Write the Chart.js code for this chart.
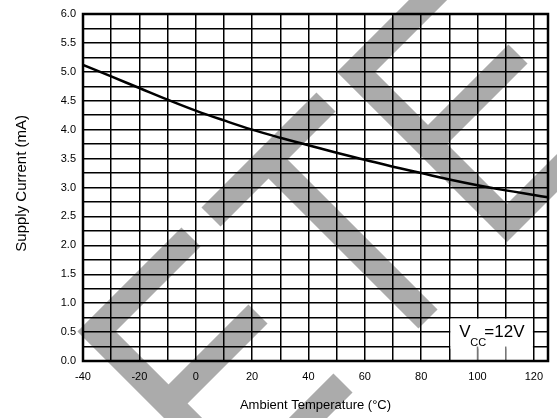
<!DOCTYPE html>
<html>
<head>
<meta charset="utf-8">
<script src="https://cdn.jsdelivr.net/npm/chart.js@4.4.0/dist/chart.umd.min.js"></script>
<style>
  html, body { margin: 0; padding: 0; background: #fff; }
  #wrap { width: 557px; height: 418px; }
</style>
</head>
<body>
<div id="wrap"><canvas id="chart"></canvas></div>
<script>
// data
const temps = [-40, -30, -20, -10, 0, 10, 20, 30, 40, 50, 60, 70, 80, 90, 100, 110, 120, 125];
const current = [5.12, 4.92, 4.72, 4.52, 4.33, 4.16, 4.00, 3.86, 3.73, 3.60, 3.48, 3.36, 3.25, 3.14, 3.04, 2.95, 2.87, 2.83];
const xGrid = [-40, -30, -20, -10, 0, 10, 20, 30, 40, 50, 60, 70, 80, 90, 100, 110, 120, 125];
const xTickLabels = [-40, -20, 0, 20, 40, 60, 80, 100, 120];
const yTickLabels = [0, 0.5, 1, 1.5, 2, 2.5, 3, 3.5, 4, 4.5, 5, 5.5, 6];

const FONT = "'Liberation Sans', Arial, sans-serif";

// grey background watermark strokes (page pixels)
const watermark = [
    [[191, 237], [96.5, 331.5], [220, 455]],
    [[168.5, 403.5], [258, 314]],
    [[211, 217], [326, 102]],
    [[268.5, 159.5], [428, 319]],
    [[450, -22], [356, 72], [507, 223], [600, 130]],
    [[428, 144], [518, 54]],
    [[343, 383], [250, 476]]
];

const decor = {
    id: 'decor',
    beforeDraw(chart) {
        const ctx = chart.ctx;
        ctx.save();
        ctx.fillStyle = '#fff';
        ctx.fillRect(0, 0, chart.width, chart.height);
        ctx.strokeStyle = '#ababab';
        ctx.lineWidth = 27;
        ctx.lineCap = 'butt';
        ctx.lineJoin = 'miter';
        watermark.forEach(function(line) {
            ctx.beginPath();
            line.forEach(function(p, i) {
                if (i === 0) ctx.moveTo(p[0], p[1]); else ctx.lineTo(p[0], p[1]);
            });
            ctx.stroke();
        });
        ctx.restore();
    },
    afterDraw(chart) {
        const ctx = chart.ctx;
        const xs = chart.scales.x, ys = chart.scales.y;
        const a = chart.chartArea;
        ctx.save();
        // Vcc box
        const bx0 = xs.getPixelForValue(90), bx1 = xs.getPixelForValue(120);
        const by0 = ys.getPixelForValue(0.75), by1 = ys.getPixelForValue(0.25);
        ctx.fillStyle = '#fff';
        ctx.fillRect(bx0 + 1, by0 + 1, bx1 - bx0 - 2, by1 - by0 + 1);
        [100, 110].forEach(function(v) {
            const px = xs.getPixelForValue(v);
            ctx.strokeStyle = '#fff';
            ctx.lineWidth = 2;
            ctx.beginPath(); ctx.moveTo(px, by1); ctx.lineTo(px, a.bottom); ctx.stroke();
            ctx.strokeStyle = '#777';
            ctx.lineWidth = 1.5;
            ctx.beginPath(); ctx.moveTo(px, by1); ctx.lineTo(px, a.bottom); ctx.stroke();
        });
        ctx.fillStyle = '#000';
        ctx.textBaseline = 'alphabetic';
        ctx.font = '17px ' + FONT;
        ctx.fillText('V', bx0 + 10, by0 + 19);
        ctx.font = '11px ' + FONT;
        ctx.fillText('CC', bx0 + 21, by0 + 28);
        ctx.font = '17px ' + FONT;
        ctx.fillText('=12V', bx0 + 35, by0 + 19);
        // frame
        ctx.strokeStyle = '#000';
        ctx.lineWidth = 2.5;
        ctx.strokeRect(a.left, a.top, a.right - a.left, a.bottom - a.top);
        ctx.restore();
    }
};

const ctx = document.getElementById('chart').getContext('2d');
const chart = new Chart(ctx, {
    type: 'line',
    data: {
        datasets: [{
            data: temps.map(function(t, i) { return { x: t, y: current[i] }; }),
            borderColor: '#000',
            borderWidth: 2.5,
            pointRadius: 0,
            tension: 0.4,
            fill: false
        }]
    },
    options: {
        responsive: true,
        maintainAspectRatio: false,
        animation: false,
        layout: { padding: { top: 14, right: 1, left: 0, bottom: 0 } },
        plugins: {
            legend: { display: false },
            tooltip: { enabled: false }
        },
        scales: {
            x: {
                type: 'linear',
                min: -40,
                max: 125,
                afterBuildTicks: function(s) { s.ticks = xGrid.map(function(v) { return { value: v }; }); },
                afterFit: function(s) { s.height = 57; },
                grid: { color: '#000', lineWidth: 1.5, drawTicks: false },
                border: { display: false },
                ticks: {
                    padding: 9,
                    color: '#000',
                    font: { family: FONT, size: 11 },
                    maxRotation: 0,
                    autoSkip: false,
                    callback: function(v) { return xTickLabels.includes(v) ? String(v) : ''; }
                },
                title: {
                    display: true,
                    text: 'Ambient Temperature (°C)',
                    color: '#000',
                    font: { family: FONT, size: 13 },
                    padding: { top: 0, bottom: 5 }
                }
            },
            y: {
                min: 0,
                max: 6,
                afterFit: function(s) { s.width = 83; },
                grid: { color: '#000', lineWidth: 1.5, drawTicks: false },
                border: { display: false },
                ticks: {
                    stepSize: 0.25,
                    padding: 7,
                    color: '#000',
                    font: { family: FONT, size: 11 },
                    autoSkip: false,
                    callback: function(v) { return yTickLabels.includes(v) ? v.toFixed(1) : ''; }
                },
                title: {
                    display: true,
                    text: '  Supply Current (mA)',
                    color: '#000',
                    font: { family: FONT, size: 15 },
                    padding: { top: 13, bottom: 0 }
                }
            }
        }
    },
    plugins: [decor]
});
</script>
</body>
</html>
